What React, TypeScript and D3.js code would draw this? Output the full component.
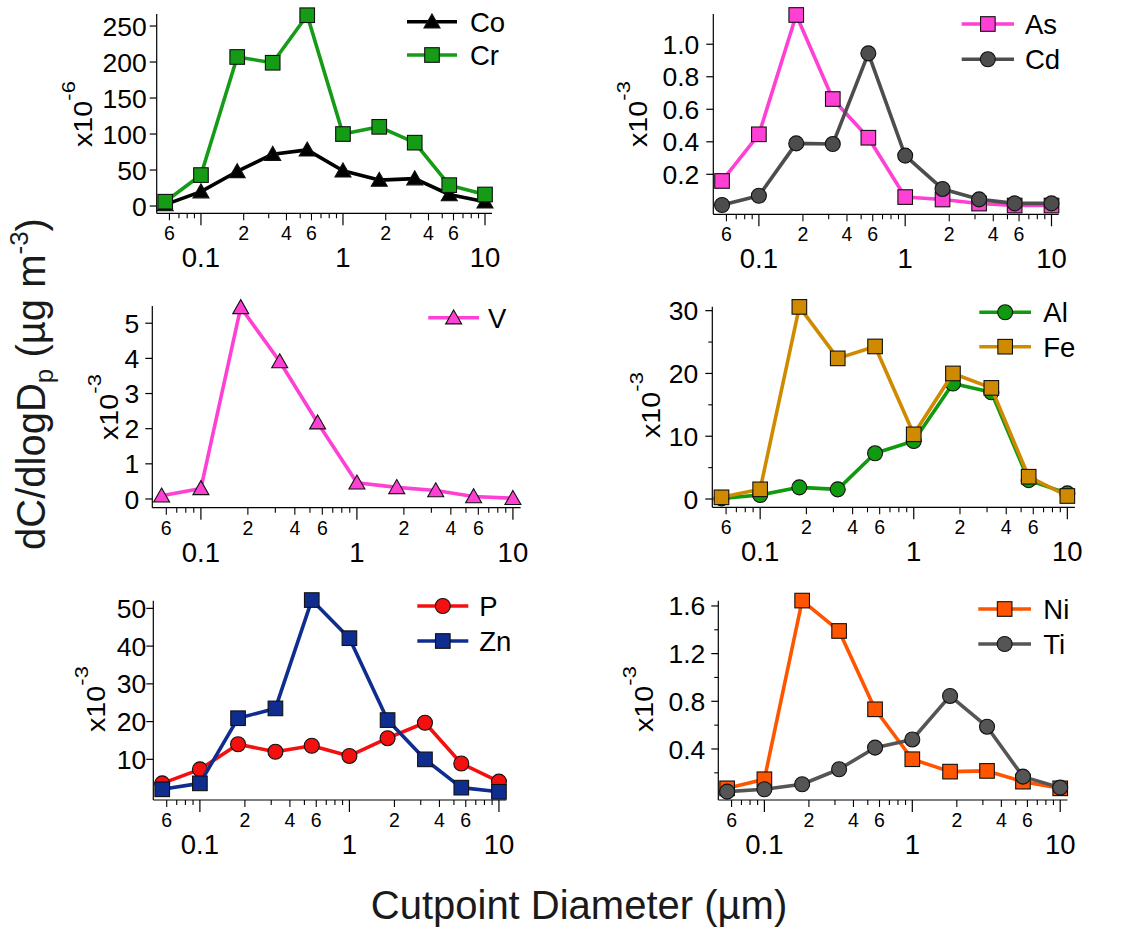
import React from "react";
import * as d3 from "d3";

// ---- data ----
const cutpoints = [0.056, 0.1, 0.18, 0.32, 0.56, 1.0, 1.8, 3.2, 5.6, 10];
const coValues = [2, 20, 48, 72, 78, 49, 36, 38, 16, 6];
const crValues = [6, 43, 207, 199, 265, 100, 110, 88, 29, 16];
const asValues = [0.159, 0.446, 1.18, 0.663, 0.425, 0.06, 0.045, 0.02, 0.008, 0.008];
const cdValues = [0.011, 0.068, 0.39, 0.386, 0.944, 0.315, 0.11, 0.046, 0.021, 0.021];
const vValues = [0.09, 0.3, 5.45, 3.91, 2.17, 0.46, 0.33, 0.24, 0.07, 0.02];
const alValues = [0.1, 0.64, 1.86, 1.54, 7.28, 9.24, 18.4, 17.0, 3.0, 0.9];
const feValues = [0.27, 1.54, 30.6, 22.4, 24.3, 10.3, 20.0, 17.7, 3.55, 0.48];
const pValues = [3.64, 7.35, 14.0, 12.0, 13.6, 10.9, 15.6, 19.7, 8.9, 4.1];
const znValues = [2.06, 3.64, 20.9, 23.5, 52.2, 42.1, 20.4, 10.0, 2.5, 1.4];
const niValues = [0.07, 0.146, 1.645, 1.39, 0.733, 0.314, 0.21, 0.216, 0.126, 0.07];
const tiValues = [0.042, 0.062, 0.104, 0.23, 0.411, 0.48, 0.845, 0.587, 0.168, 0.076];

const xMajorTicks = [0.1, 1, 10];
const xMajorLabels = ["0.1", "1", "10"];
const xMinorTicks = [0.06, 0.07, 0.08, 0.09, 0.2, 0.3, 0.4, 0.5, 0.6, 0.7, 0.8, 0.9, 2, 3, 4, 5, 6, 7, 8, 9];
const xMinorLabeled = [0.06, 0.2, 0.4, 0.6, 2, 4, 6];
const xMinorLabels = ["6", "2", "4", "6", "2", "4", "6"];

const yTicks1 = [0, 50, 100, 150, 200, 250];
const yTicks2 = [0.2, 0.4, 0.6, 0.8, 1.0];
const yTicks3 = [0, 1, 2, 3, 4, 5];
const yTicks4 = [0, 10, 20, 30];
const yMinor4 = [5, 15, 25];
const yTicks5 = [10, 20, 30, 40, 50];
const yTicks6 = [0.4, 0.8, 1.2, 1.6];
const yMinor6 = [0.2, 0.6, 1.0, 1.4];

const FONT = "'Liberation Sans', Arial, Helvetica, sans-serif";

type Series = { name: string; values: number[]; color: string; marker: "triangle" | "square" | "circle" };
type Panel = {
  left: number; right: number; top: number; bottom: number;
  yDomain: [number, number]; yTicks: number[]; yMinor: number[]; yFmt: (d: number) => string;
  labelGap: number; exponent: string; unitX: number; unitY: number;
  legend: { x1: number; x2: number; tx: number; ys: number[] };
  series: Series[];
};

const f0 = (d: number) => String(d);
const f1 = d3.format(".1f");

const panels: Panel[] = [
  {
    left: 156.7, right: 492, top: 14, bottom: 213.3, yDomain: [-10.1, 266.7], yTicks: yTicks1, yMinor: [], yFmt: f0,
    labelGap: 10, exponent: "-6", unitX: 92, unitY: 147,
    legend: { x1: 407, x2: 457, tx: 470, ys: [21.7, 55] },
    series: [
      { name: "Co", values: coValues, color: "#000000", marker: "triangle" },
      { name: "Cr", values: crValues, color: "#169b16", marker: "square" },
    ],
  },
  {
    left: 713.3, right: 1058.7, top: 14, bottom: 214.3, yDomain: [-0.046, 1.186], yTicks: yTicks2, yMinor: [], yFmt: f1,
    labelGap: 14, exponent: "-3", unitX: 647, unitY: 147,
    legend: { x1: 961.7, x2: 1014, tx: 1025, ys: [24, 59.3] },
    series: [
      { name: "As", values: asValues, color: "#ff40d4", marker: "square" },
      { name: "Cd", values: cdValues, color: "#4d4d4d", marker: "circle" },
    ],
  },
  {
    left: 152.3, right: 520.6, top: 306, bottom: 507.7, yDomain: [-0.248, 5.49], yTicks: yTicks3, yMinor: [], yFmt: f0,
    labelGap: 13, exponent: "-3", unitX: 118, unitY: 440,
    legend: { x1: 428.3, x2: 479, tx: 488, ys: [317.7] },
    series: [{ name: "V", values: vValues, color: "#ff40d4", marker: "triangle" }],
  },
  {
    left: 712.3, right: 1074.9, top: 306.7, bottom: 507.3, yDomain: [-1.32, 30.63], yTicks: yTicks4, yMinor: yMinor4, yFmt: f0,
    labelGap: 14, exponent: "-3", unitX: 660, unitY: 438,
    legend: { x1: 979.3, x2: 1031, tx: 1043.3, ys: [312.3, 346.7] },
    series: [
      { name: "Al", values: alValues, color: "#109a10", marker: "circle" },
      { name: "Fe", values: feValues, color: "#cf8a00", marker: "square" },
    ],
  },
  {
    left: 153.3, right: 506.3, top: 600.7, bottom: 800, yDomain: [-0.77, 52.03], yTicks: yTicks5, yMinor: [], yFmt: f0,
    labelGap: 7, exponent: "-3", unitX: 105, unitY: 732,
    legend: { x1: 417.3, x2: 468.3, tx: 479.3, ys: [606, 641] },
    series: [
      { name: "P", values: pValues, color: "#f51010", marker: "circle" },
      { name: "Zn", values: znValues, color: "#0f2d8f", marker: "square" },
    ],
  },
  {
    left: 718.3, right: 1067.5, top: 600.7, bottom: 800, yDomain: [-0.028, 1.644], yTicks: yTicks6, yMinor: yMinor6, yFmt: f1,
    labelGap: 13, exponent: "-3", unitX: 653, unitY: 732,
    legend: { x1: 978.3, x2: 1031, tx: 1043.3, ys: [609, 644] },
    series: [
      { name: "Ni", values: niValues, color: "#ff5500", marker: "square" },
      { name: "Ti", values: tiValues, color: "#555555", marker: "circle" },
    ],
  },
];

function Marker({ x, y, kind, color }: { x: number; y: number; kind: string; color: string }) {
  if (kind === "square") {
    return <rect x={x - 7.3} y={y - 7.3} width={14.6} height={14.6} fill={color} stroke="#111" strokeWidth={1.1} />;
  }
  if (kind === "circle") {
    return <circle cx={x} cy={y} r={7.5} fill={color} stroke="#111" strokeWidth={1.1} />;
  }
  return (
    <path
      d={`M${x},${y - 7.8}L${x + 8},${y + 6.2}L${x - 8},${y + 6.2}Z`}
      fill={color}
      stroke="#111"
      strokeWidth={1.1}
      strokeLinejoin="miter"
    />
  );
}

function PanelView({ p }: { p: Panel }) {
  const x = d3.scaleLog().domain([0.0488, 11.2]).range([p.left, p.right]);
  const y = d3.scaleLinear().domain(p.yDomain).range([p.bottom, p.top]);
  const line = d3
    .line<number>()
    .x((_, i) => x(cutpoints[i]))
    .y((v) => y(v));
  return (
    <g>
      {/* axes */}
      <line x1={p.left} x2={p.left} y1={p.bottom} y2={p.top} stroke="#000" strokeWidth={1.2} />
      <line x1={p.left} x2={p.right} y1={p.bottom} y2={p.bottom} stroke="#000" strokeWidth={1.2} />
      {p.yTicks.map((t) => (
        <g key={"yt" + t}>
          <line x1={p.left - 7} x2={p.left} y1={y(t)} y2={y(t)} stroke="#000" strokeWidth={1.2} />
          <text x={p.left - p.labelGap} y={y(t)} dy="0.36em" textAnchor="end" fontSize={26.5} fontFamily={FONT} fill="#000">
            {p.yFmt(t)}
          </text>
        </g>
      ))}
      {p.yMinor.map((t) => (
        <line key={"ym" + t} x1={p.left - 4} x2={p.left} y1={y(t)} y2={y(t)} stroke="#000" strokeWidth={1.1} />
      ))}
      {xMajorTicks.map((t, i) => (
        <g key={"xt" + t}>
          <line x1={x(t)} x2={x(t)} y1={p.bottom} y2={p.bottom + 12} stroke="#000" strokeWidth={1.2} />
          <text x={x(t)} y={p.bottom + 54} textAnchor="middle" fontSize={27.5} fontFamily={FONT} fill="#000">
            {xMajorLabels[i]}
          </text>
        </g>
      ))}
      {xMinorTicks.map((t) => {
        const li = xMinorLabeled.indexOf(t);
        return (
          <g key={"xm" + t}>
            <line x1={x(t)} x2={x(t)} y1={p.bottom} y2={p.bottom + (li >= 0 ? 7 : 5)} stroke="#000" strokeWidth={1.1} />
            {li >= 0 && (
              <text x={x(t)} y={p.bottom + 27} textAnchor="middle" fontSize={19.5} fontFamily={FONT} fill="#000">
                {xMinorLabels[li]}
              </text>
            )}
          </g>
        );
      })}
      {/* unit label */}
      <g transform={`translate(${p.unitX},${p.unitY}) rotate(-90) scale(1.15,1)`}>
        <text x={0} y={0} fontSize={25} fontFamily={FONT} fill="#000">
          x10
          <tspan dy={-17} fontSize={19}>
            {p.exponent}
          </tspan>
        </text>
      </g>
      {/* series */}
      {p.series.map((s) => (
        <g key={s.name}>
          <path d={line(s.values) || ""} fill="none" stroke={s.color} strokeWidth={3.6} strokeLinejoin="round" />
          {s.values.map((v, i) => (
            <Marker key={i} x={x(cutpoints[i])} y={y(v)} kind={s.marker} color={s.color} />
          ))}
        </g>
      ))}
      {/* legend */}
      {p.series.map((s, i) => {
        const ly = p.legend.ys[i];
        return (
          <g key={"lg" + s.name}>
            <line x1={p.legend.x1} x2={p.legend.x2} y1={ly} y2={ly} stroke={s.color} strokeWidth={3.6} />
            <Marker x={(p.legend.x1 + p.legend.x2) / 2} y={ly} kind={s.marker} color={s.color} />
            <text x={p.legend.tx} y={ly} dy="0.36em" fontSize={27.5} fontFamily={FONT} fill="#000">
              {s.name}
            </text>
          </g>
        );
      })}
    </g>
  );
}

export default function App() {
  return (
    <svg
      width={1124}
      height={929}
      viewBox="0 0 1124 929"
      style={{ position: "absolute", left: 0, top: 0, background: "#fff" }}
    >
      <rect x={0} y={0} width={1124} height={929} fill="#fff" />
      {panels.map((p, i) => (
        <PanelView key={i} p={p} />
      ))}
      <text transform="translate(45,384) rotate(-90)" textAnchor="middle" fontSize={40} fontFamily={FONT} fill="#1a1a1a">
        dC/dlogD
        <tspan fontSize={26} dy={8}>p</tspan>
        <tspan dy={-8}> (µg m</tspan>
        <tspan fontSize={26} dy={-17}>-3</tspan>
        <tspan dy={17}>)</tspan>
      </text>
      <text x={579} y={919} textAnchor="middle" fontSize={40} fontFamily={FONT} fill="#1a1a1a">
        Cutpoint Diameter (µm)
      </text>
    </svg>
  );
}
